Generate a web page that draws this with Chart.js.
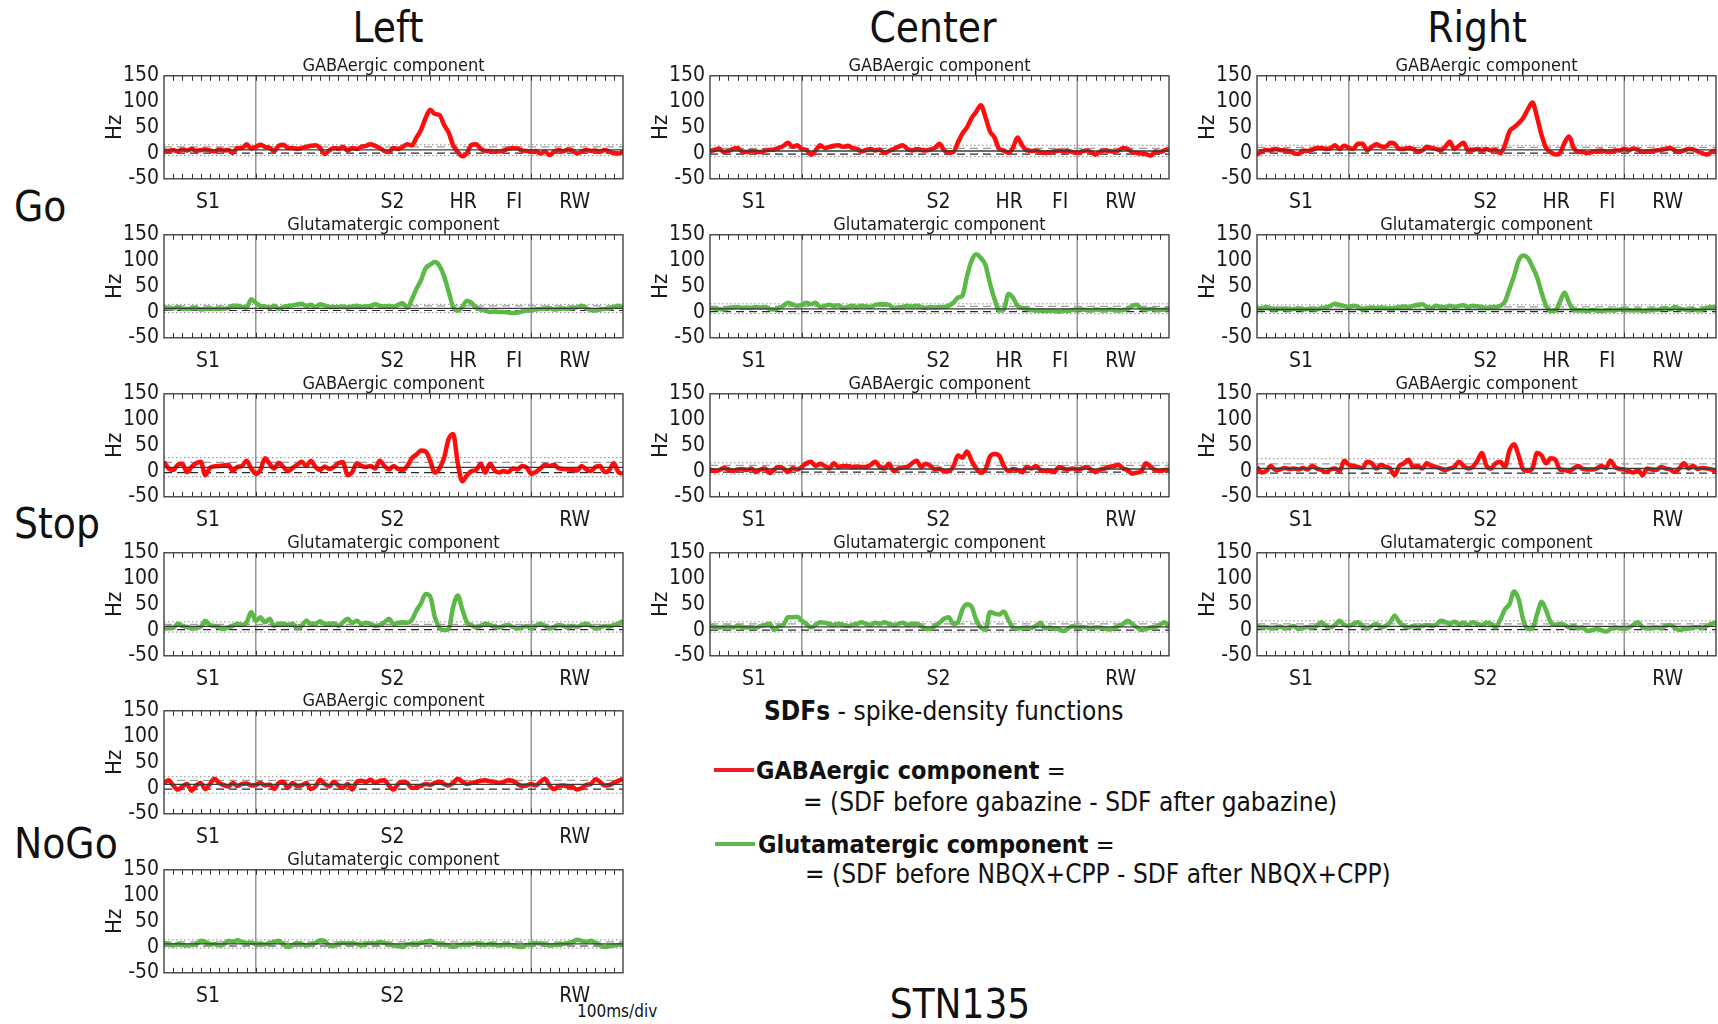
<!DOCTYPE html>
<html>
<head>
<meta charset="utf-8">
<script src="https://cdn.jsdelivr.net/npm/chart.js"></script>
<style>
  body { margin: 0; background: #fff; width: 1718px; height: 1024px; position: relative; overflow: hidden;
         font-family: 'Liberation Sans Narrow', 'DejaVu Sans Condensed', Roboto, sans-serif; color: #111; }
  canvas { position: absolute; }
  .txt { position: absolute; white-space: nowrap; line-height: 1; }
  .c { transform: translate(-50%, -50%); }
  .m { transform: translateY(-50%); }
  .bar { position: absolute; height: 4px; }
</style>
</head>
<body>

<div class="txt c" style="left:388px;top:28px;font-size:42px">Left</div>
<div class="txt c" style="left:933px;top:28px;font-size:42px">Center</div>
<div class="txt c" style="left:1477px;top:28px;font-size:42px">Right</div>

<div class="txt m" style="left:14px;top:207px;font-size:42px">Go</div>
<div class="txt m" style="left:14px;top:524px;font-size:42px">Stop</div>
<div class="txt m" style="left:14px;top:844px;font-size:42px">NoGo</div>

<div class="txt m" style="left:764px;top:711px;font-size:26px"><b>SDFs</b> - spike-density functions</div>
<div class="bar" style="left:714px;top:768px;width:40px;background:#ee1c24"></div>
<div class="txt m" style="left:756px;top:770px;font-size:25px"><b>GABAergic component</b> =</div>
<div class="txt m" style="left:803px;top:802px;font-size:26px">= (SDF before gabazine - SDF after gabazine)</div>
<div class="bar" style="left:715px;top:842px;width:40px;background:#5cb847"></div>
<div class="txt m" style="left:758px;top:844px;font-size:25px"><b>Glutamatergic component</b> =</div>
<div class="txt m" style="left:805px;top:874px;font-size:26px">= (SDF before NBQX+CPP - SDF after NBQX+CPP)</div>

<div class="txt m" style="left:577px;top:1011px;font-size:17px">100ms/div</div>
<div class="txt c" style="left:960px;top:1004px;font-size:40px">STN135</div>

<script>
// eixo do tempo: 0 a 5000 ms, amostrado a cada 50 ms
const TOTAL_MS = 5000;
const STEP_MS = 50;
const TIME_MS = Array.from({ length: TOTAL_MS / STEP_MS + 1 }, (_, i) => i * STEP_MS);
const DIV_MS = 100;
const SEGMENT_MS = [1000, 4000];

const GO_EVENT_NAMES = ['S1', 'S2', 'HR', 'FI', 'RW'];
const GO_EVENT_MS = [480, 2490, 3260, 3815, 4475];
const STOP_EVENT_NAMES = ['S1', 'S2', 'RW'];
const STOP_EVENT_MS = [480, 2490, 4475];

const Y_MIN = -50;
const Y_MAX = 150;
const Y_STEP = 50;

// SDF traces (Hz)
const leftGoGaba = [5,4,6,3,7,5,8,4,6,7,5,3,7,5,6,0,10,10,17,9,12,
  16,12,10,4,14,16,10,10,8,10,12,14,15,10,-2,5,10,8,12,5,
  10,8,12,14,17,14,10,4,2,10,8,12,17,15,30,45,68,84,76,74,
  55,40,15,2,-6,0,16,17,8,4,4,3,3,5,8,10,9,5,4,3,
  4,-1,3,-4,3,6,3,7,5,-1,3,6,4,5,2,6,3,0,-1,3];
const leftGoGlu = [8,7,7,10,6,6,7,8,5,6,7,6,7,6,8,12,12,10,9,25,18,
  12,11,8,12,6,10,12,13,15,16,12,14,10,15,13,10,10,10,11,9,
  11,12,10,11,12,15,12,11,12,10,14,17,8,25,45,62,85,92,97,90,
  70,40,10,3,10,22,18,8,5,3,0,1,0,0,-1,-2,-1,1,3,4,
  5,6,6,8,5,6,7,6,8,9,12,7,4,3,5,6,7,10,12,9];
const leftStopGaba = [18,5,2,12,14,-2,8,15,18,-8,6,9,10,11,12,0,8,10,20,5,-5,
  2,25,14,5,16,8,0,6,12,18,10,20,8,2,9,4,8,15,17,-8,
  -2,15,10,8,10,5,20,10,3,10,4,2,10,25,32,40,38,20,-3,5,
  25,62,72,15,-20,-8,0,2,14,-3,14,2,-3,0,-2,5,3,10,7,-5,
  -2,5,12,10,12,5,4,3,2,1,10,3,0,8,10,-2,2,15,-2,-5];
const leftStopGlu = [3,5,4,12,8,6,3,4,6,18,10,8,5,2,5,8,12,10,15,35,18,
  25,15,22,8,12,12,10,12,3,8,18,12,12,17,12,12,13,8,15,22,
  14,18,12,14,12,8,10,15,22,12,14,15,14,20,38,52,70,65,25,5,
  0,2,45,67,40,15,10,5,8,12,10,6,5,8,10,6,3,5,8,3,
  8,12,8,3,6,10,8,5,8,6,10,12,8,3,5,8,6,10,12,18];
const leftNogoGaba = [10,15,5,-3,3,8,-5,5,10,-2,8,18,10,6,3,10,4,8,9,5,6,
  10,5,7,-2,10,12,0,10,4,5,10,-2,3,16,8,3,12,5,0,8,
  -3,12,14,12,16,10,14,15,5,-3,8,12,10,0,2,4,8,6,10,12,
  8,5,10,18,12,8,10,12,14,15,13,12,10,12,15,14,8,4,5,8,
  5,12,18,5,-2,4,5,3,2,-3,0,6,8,17,12,5,6,10,14,18];
const leftNogoGlu = [8,5,3,6,4,3,4,5,12,10,5,6,3,5,12,10,13,10,8,9,5,
  6,5,8,10,12,5,0,4,8,6,3,5,8,13,12,3,2,6,8,6,
  8,6,3,6,8,6,10,8,5,3,2,0,5,6,5,8,10,12,8,6,
  5,3,0,3,5,4,6,7,5,4,6,5,3,4,5,3,1,0,4,5,
  8,7,5,3,4,5,6,8,10,14,12,10,12,8,3,0,2,3,4,5];
const centerGoGaba = [3,6,9,2,4,8,10,3,2,4,3,2,5,6,7,10,14,20,12,15,8,
  6,-3,5,15,10,12,14,15,12,14,10,8,3,6,8,5,7,0,4,8,
  12,15,8,5,8,6,5,7,10,18,5,1,2,20,38,50,68,80,93,70,
  42,30,8,5,0,10,30,15,5,4,5,2,0,2,3,5,3,4,2,0,
  3,5,2,-3,3,5,4,3,5,10,8,2,0,-1,-2,-5,3,2,5,8];
const centerGoGlu = [8,7,6,5,8,9,10,8,9,8,10,9,10,6,5,8,12,18,15,12,14,
  18,15,18,10,12,14,12,13,8,10,12,10,12,11,10,14,15,15,14,8,
  9,10,12,11,12,10,8,10,9,10,10,12,18,28,32,70,100,112,105,92,
  55,25,3,4,35,28,12,8,6,4,3,3,2,3,2,1,3,2,4,5,
  5,4,3,5,4,3,5,4,3,4,6,12,14,6,5,6,5,4,5,6];
const centerStopGaba = [3,0,2,6,3,0,3,4,2,5,-2,3,5,-4,3,8,5,-2,6,3,8,
  15,18,10,14,10,5,15,8,10,10,8,9,8,8,12,18,8,5,14,0,
  5,7,8,15,20,8,14,10,3,5,-1,0,8,30,26,38,20,5,-3,3,
  28,33,30,10,0,4,2,-2,8,5,10,2,0,0,-2,8,5,3,5,3,
  5,8,3,-2,3,5,8,10,12,5,2,-5,-3,0,15,8,2,0,2,3];
const centerStopGlu = [8,6,5,6,7,5,8,6,5,6,4,8,10,12,0,8,10,25,25,26,18,
  12,5,10,15,14,12,10,12,10,8,10,12,15,12,10,14,12,15,12,10,
  12,14,10,12,12,8,3,2,8,14,22,25,12,15,40,50,45,20,5,0,
  35,32,30,36,20,5,3,4,5,4,8,14,3,5,3,2,-2,3,8,5,
  6,5,4,5,5,3,1,4,8,12,18,12,5,0,2,5,6,10,15,5];
const rightGoGaba = [-3,3,6,5,8,6,5,4,0,-2,5,4,6,10,10,8,9,15,8,14,10,
  8,18,18,5,12,17,13,12,20,18,8,8,10,8,3,5,12,10,8,5,
  12,22,8,14,20,5,6,8,4,8,5,6,0,15,42,50,58,68,85,98,
  70,35,10,2,-3,0,20,32,10,2,2,0,2,4,5,3,2,5,5,8,
  5,9,6,2,3,4,5,6,8,10,5,2,5,8,7,3,0,-3,2,5];
const rightGoGlu = [8,7,10,6,5,7,6,5,6,7,5,6,6,5,8,9,12,16,14,12,10,
  12,10,5,8,9,8,9,8,7,8,10,11,10,12,14,15,10,8,12,10,
  9,12,10,12,13,10,12,11,10,8,10,10,12,20,45,70,100,110,105,88,
  68,38,12,2,3,20,38,18,4,3,3,2,4,3,2,3,4,3,5,5,
  4,3,5,2,3,5,4,6,8,5,10,6,5,4,6,3,5,8,10,8];
const rightStopGaba = [8,-3,0,10,2,3,6,4,5,3,6,3,10,5,2,-2,3,5,0,20,12,
  10,8,6,18,15,5,12,8,5,-8,10,15,22,8,10,5,15,10,8,5,
  2,5,8,18,10,5,8,20,35,10,5,15,18,8,40,52,30,3,0,5,
  35,30,15,25,22,3,2,0,5,10,4,3,3,5,10,6,20,8,4,3,
  0,-3,2,-8,5,3,2,8,5,3,-2,5,15,5,10,4,6,5,3,-2];
const rightStopGlu = [8,5,6,3,5,7,3,5,8,2,4,6,5,8,15,8,5,10,18,10,8,
  12,15,8,3,8,12,5,8,15,28,15,8,5,8,6,8,10,8,10,18,
  16,12,16,12,14,10,15,12,10,14,12,5,20,40,50,75,60,20,2,3,
  30,55,38,15,10,12,10,5,8,3,5,-2,0,2,0,-3,2,5,3,3,
  5,10,15,5,3,4,5,3,8,10,5,0,2,3,5,6,4,8,12,15];

// baseline lines per panel: [mean, dashed high, dashed low, dotted high, dotted low]
const leftGoGabaLines = [6, 12, 0, 16, -5];
const leftGoGluLines = [7, 12, 3, 15, -1];
const leftStopGabaLines = [7, 17, -3, 26, -11];
const leftStopGluLines = [7, 11, 1, 16, -4];
const leftNogoGabaLines = [7, 15, -2, 22, -10];
const leftNogoGluLines = [6, 10, 2, 14, -2];
const centerGoGabaLines = [4, 9, -2, 15, -7];
const centerGoGluLines = [6, 11, 1, 16, -3];
const centerStopGabaLines = [4, 11, -2, 16, -6];
const centerStopGluLines = [6, 12, 0, 16, -4];
const rightGoGabaLines = [6, 11, 0, 15, -5];
const rightGoGluLines = [5, 10, 1, 14, -3];
const rightStopGabaLines = [5, 14, -4, 24, -13];
const rightStopGluLines = [7, 12, 1, 18, -4];

const GABA_TITLE = 'GABAergic component';
const GLU_TITLE = 'Glutamatergic component';

// layout
const COL_PLOT_LEFT = [164.4, 710, 1256.8];
const ROW_PLOT_TOP = [75.6, 234.5, 393.4, 552.3, 711.2, 870.1];
const PLOT_W = 459;
const PLOT_H = 103;
const Y_AXIS_W = 62;
const RIGHT_PAD = 2;
const TITLE_H = 19.8;
const CANVAS_W = Y_AXIS_W + PLOT_W + RIGHT_PAD;
const CANVAS_H = 162;
const X_AXIS_H = CANVAS_H - TITLE_H - PLOT_H;

const cores = {
    vermelho: '#ff0d0d',
    verde: '#5cb847',
    texto: '#1a1a1a',
    moldura: '#333333',
    divisao: '#7a7a7a',
    media: '#3a3a3a',
    tracoAlto: '#9a9a9a',
    tracoBaixo: '#2a2a2a',
    pontilhado: '#8a8a8a'
};

Chart.defaults.font.family = "'Liberation Sans Narrow', 'DejaVu Sans Condensed', Roboto, sans-serif";
Chart.defaults.color = cores.texto;

const GO = { names: GO_EVENT_NAMES, ms: GO_EVENT_MS };
const STOP = { names: STOP_EVENT_NAMES, ms: STOP_EVENT_MS };

const paineis = [
    { col: 0, row: 0, title: GABA_TITLE, values: leftGoGaba, lines: leftGoGabaLines, color: cores.vermelho, ev: GO },
    { col: 0, row: 1, title: GLU_TITLE, values: leftGoGlu, lines: leftGoGluLines, color: cores.verde, ev: GO },
    { col: 0, row: 2, title: GABA_TITLE, values: leftStopGaba, lines: leftStopGabaLines, color: cores.vermelho, ev: STOP },
    { col: 0, row: 3, title: GLU_TITLE, values: leftStopGlu, lines: leftStopGluLines, color: cores.verde, ev: STOP },
    { col: 0, row: 4, title: GABA_TITLE, values: leftNogoGaba, lines: leftNogoGabaLines, color: cores.vermelho, ev: STOP },
    { col: 0, row: 5, title: GLU_TITLE, values: leftNogoGlu, lines: leftNogoGluLines, color: cores.verde, ev: STOP },
    { col: 1, row: 0, title: GABA_TITLE, values: centerGoGaba, lines: centerGoGabaLines, color: cores.vermelho, ev: GO },
    { col: 1, row: 1, title: GLU_TITLE, values: centerGoGlu, lines: centerGoGluLines, color: cores.verde, ev: GO },
    { col: 1, row: 2, title: GABA_TITLE, values: centerStopGaba, lines: centerStopGabaLines, color: cores.vermelho, ev: STOP },
    { col: 1, row: 3, title: GLU_TITLE, values: centerStopGlu, lines: centerStopGluLines, color: cores.verde, ev: STOP },
    { col: 2, row: 0, title: GABA_TITLE, values: rightGoGaba, lines: rightGoGabaLines, color: cores.vermelho, ev: GO },
    { col: 2, row: 1, title: GLU_TITLE, values: rightGoGlu, lines: rightGoGluLines, color: cores.verde, ev: GO },
    { col: 2, row: 2, title: GABA_TITLE, values: rightStopGaba, lines: rightStopGabaLines, color: cores.vermelho, ev: STOP },
    { col: 2, row: 3, title: GLU_TITLE, values: rightStopGlu, lines: rightStopGluLines, color: cores.verde, ev: STOP }
];

// box around the plot plus inward ticks every 100 ms
const molduraPlugin = {
    id: 'moldura',
    afterDatasetsDraw(chart) {
        const { ctx, chartArea: a, scales: { x } } = chart;
        ctx.save();
        ctx.strokeStyle = cores.moldura;
        ctx.lineWidth = 1;
        ctx.beginPath();
        for (let t = DIV_MS; t < TOTAL_MS; t += DIV_MS) {
            const px = Math.round(x.getPixelForValue(t)) + 0.5;
            ctx.moveTo(px, a.top);
            ctx.lineTo(px, a.top + 5);
            ctx.moveTo(px, a.bottom);
            ctx.lineTo(px, a.bottom - 5);
        }
        ctx.stroke();
        ctx.lineWidth = 1.3;
        ctx.strokeRect(a.left, a.top, a.right - a.left, a.bottom - a.top);
        ctx.restore();
    }
};

function linhaHorizontal(y, color, dash, width, order) {
    return {
        data: [{ x: 0, y: y }, { x: TOTAL_MS, y: y }],
        borderColor: color, borderWidth: width, borderDash: dash,
        pointRadius: 0, order: order
    };
}

function linhaVertical(x) {
    return {
        data: [{ x: x, y: Y_MIN }, { x: x, y: Y_MAX }],
        borderColor: cores.divisao, borderWidth: 1.2,
        pointRadius: 0, order: 3
    };
}

paineis.forEach((p) => {
    const canvas = document.createElement('canvas');
    canvas.width = CANVAS_W;
    canvas.height = CANVAS_H;
    canvas.style.width = CANVAS_W + 'px';
    canvas.style.height = CANVAS_H + 'px';
    canvas.style.left = (COL_PLOT_LEFT[p.col] - Y_AXIS_W) + 'px';
    canvas.style.top = (ROW_PLOT_TOP[p.row] - TITLE_H) + 'px';
    document.body.appendChild(canvas);

    const [media, altoT, baixoT, altoP, baixoP] = p.lines;

    new Chart(canvas, {
        type: 'line',
        data: {
            datasets: [
                linhaHorizontal(media, cores.media, [], 1.3, 0),
                {
                    data: TIME_MS.map((t, i) => ({ x: t, y: p.values[i] })),
                    borderColor: p.color,
                    borderWidth: 4.5,
                    pointRadius: 0,
                    cubicInterpolationMode: 'monotone',
                    order: 1
                },
                linhaHorizontal(altoT, cores.tracoAlto, [8, 5], 1.2, 2),
                linhaHorizontal(baixoT, cores.tracoBaixo, [8, 5], 1.2, 2),
                linhaHorizontal(altoP, cores.pontilhado, [1.5, 2.5], 1, 2),
                linhaHorizontal(baixoP, cores.pontilhado, [1.5, 2.5], 1, 2),
                ...SEGMENT_MS.map(linhaVertical)
            ]
        },
        options: {
            responsive: false,
            animation: false,
            events: [],
            layout: { padding: { left: 0, right: RIGHT_PAD, top: 0, bottom: 0 } },
            plugins: {
                legend: { display: false },
                tooltip: { enabled: false },
                title: {
                    display: true,
                    text: p.title,
                    fullSize: false,
                    color: cores.texto,
                    font: { size: 18, weight: 'normal', lineHeight: 1 },
                    padding: { top: 1, bottom: 0.8 }
                }
            },
            scales: {
                x: {
                    type: 'linear',
                    min: 0,
                    max: TOTAL_MS,
                    afterBuildTicks: (s) => { s.ticks = p.ev.ms.map((v) => ({ value: v })); },
                    afterFit: (s) => { s.height = X_AXIS_H; },
                    grid: { display: false, drawTicks: false },
                    border: { display: false },
                    ticks: {
                        autoSkip: false,
                        maxRotation: 0,
                        padding: 11,
                        font: { size: 21 },
                        callback: (v, i) => p.ev.names[i]
                    }
                },
                y: {
                    min: Y_MIN,
                    max: Y_MAX,
                    afterFit: (s) => { s.width = Y_AXIS_W; },
                    grid: { display: false, drawTicks: false },
                    border: { display: false },
                    ticks: { stepSize: Y_STEP, autoSkip: false, padding: 5, font: { size: 21, lineHeight: 1 } },
                    title: { display: true, text: 'Hz', font: { size: 22 }, padding: 0 }
                }
            }
        },
        plugins: [molduraPlugin]
    });
});
</script>
</body>
</html>
